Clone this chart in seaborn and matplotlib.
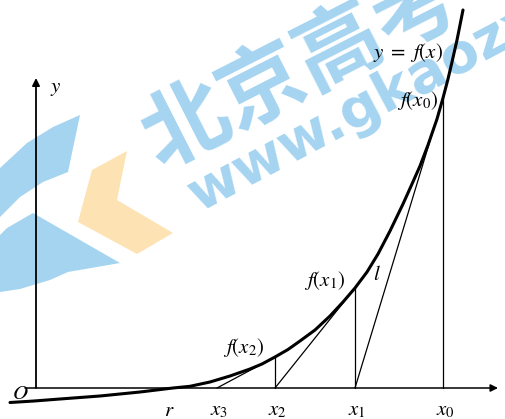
import numpy as np
import pandas as pd
import matplotlib
matplotlib.use("Agg")
import matplotlib.pyplot as plt
from matplotlib.patches import Polygon
import seaborn as sns

# curve y = f(x) (origin where the axes cross)
curve_x = [-2.6, -0.2, 2.4, 6.4, 10.4, 13.7, 15.4, 17.4, 19.4, 21.4, 22.6,
           23.9, 25.2, 26.4, 27.9, 29.4, 30.7, 31.9, 33.1, 34.2, 35.4, 36.7,
           37.6, 38.4, 39.2, 40.1, 40.7, 41.2, 41.6, 42.1, 42.7]
curve_y = [-1.45, -1.3, -1.1, -0.8, -0.4, 0.0, 0.17, 0.6, 1.2, 1.9, 2.4,
           3.1, 3.85, 4.7, 5.8, 7.2, 8.6, 10.0, 11.6, 13.4, 15.7, 18.4,
           20.4, 22.2, 24.3, 26.9, 29.0, 30.9, 32.6, 34.8, 37.8]

# Newton iterates x0, x1, x2, x3 and f at x0, x1, x2
newton_x = [40.7, 31.9, 23.9, 18.1]
newton_fx = [29.0, 10.0, 3.1]
root_x = 13.7

tick_names = [r"$x_0$", r"$x_1$", r"$x_2$", r"$x_3$"]
value_names = [r"$f(x_0)$", r"$f(x_1)$", r"$f(x_2)$"]

sns.set_style("white")
plt.rcParams["mathtext.fontset"] = "stix"
plt.rcParams["font.family"] = ["Liberation Serif", "DejaVu Sans"]

fig = plt.figure(figsize=(5.06, 4.19), dpi=100)
ax = fig.add_axes([0, 0, 1, 1])
ax.set_xlim(-3.6, 47.0)
ax.set_ylim(-3.1, 38.8)
ax.axis("off")

# --- watermark (under everything) ---
wm_blue = "#a5d4f1"
ax.add_patch(Polygon([(-3.6, 22.0), (-0.9, 24.5), (1.7, 26.1), (4.4, 27.3),
                      (3.2, 21.6), (0.7, 20.6), (-1.6, 19.1), (-3.6, 17.1)],
                     closed=True, color=wm_blue, lw=0, zorder=0))
ax.add_patch(Polygon([(-2.9, 16.0), (-0.3, 17.5), (8.4, 12.5), (3.2, 11.6),
                      (1.4, 10.8), (-1.6, 9.9), (-3.6, 9.6), (-3.6, 15.3)],
                     closed=True, color=wm_blue, lw=0, zorder=0))
ax.add_patch(Polygon([(9.1, 23.7), (8.1, 18.8), (13.7, 15.5), (10.1, 13.4),
                      (4.2, 16.6), (5.6, 21.8)],
                     closed=True, color="#fde3b3", lw=0, zorder=0))
ax.text(26.6, 32.0, "北京高考", rotation=27, fontsize=62, fontweight="bold",
        color=wm_blue, ha="center", va="center", rotation_mode="anchor",
        family=["Noto Sans CJK SC", "DejaVu Sans"], zorder=0)
ax.text(16.2, 17.6, "www.gkaozx.com", rotation=28, fontsize=40,
        fontweight="bold", color=wm_blue, ha="left", va="baseline",
        rotation_mode="anchor", family=["DejaVu Sans"], zorder=0)

# --- axes with arrows ---
ax.annotate("", xy=(46.2, 0), xytext=(-1.1, 0),
            arrowprops=dict(arrowstyle="-|>", color="black", lw=1.1,
                            mutation_scale=11, shrinkA=0, shrinkB=0))
ax.annotate("", xy=(0, 31.0), xytext=(0, 0),
            arrowprops=dict(arrowstyle="-|>", color="black", lw=1.3,
                            mutation_scale=11, shrinkA=0, shrinkB=0))

# --- the curve ---
df = pd.DataFrame({"x": curve_x, "y": curve_y})
sns.lineplot(data=df, x="x", y="y", ax=ax, color="black", linewidth=2.2,
             estimator=None, sort=True, zorder=3,
             solid_joinstyle="round", solid_capstyle="round")

# vertical lines and tangent lines
for xn, fx in zip(newton_x[:3], newton_fx):
    ax.plot([xn, xn], [0, fx], color="black", lw=0.9, zorder=2)
for i in range(3):
    ax.plot([newton_x[i + 1], newton_x[i]], [0, newton_fx[i]],
            color="black", lw=0.9, zorder=2)

# labels
lab = dict(fontsize=15, color="black", zorder=4)
ax.text(-1.6, -0.6, r"$O$", ha="center", va="center", **lab)
ax.text(1.4, 30.0, r"$y$", ha="left", va="center", **lab)
ax.text(root_x - 0.4, -2.3, r"$r$", ha="center", va="center", **lab)
for xn, name in zip(newton_x, tick_names):
    ax.text(xn + 0.2, -2.3, name, ha="center", va="center", **lab)
label_pos = [(38.2, 28.8), (28.9, 10.8), (20.8, 4.1)]
for (px, py), name in zip(label_pos, value_names):
    ax.text(px, py, name, ha="center", va="center", **lab)
ax.text(34.1, 11.3, r"$l$", ha="center", va="center", **lab)
ax.text(37.2, 33.6, r"$y\ =\ f(x)$", ha="center", va="center", **lab)

fig.savefig("out.png", dpi=100)
